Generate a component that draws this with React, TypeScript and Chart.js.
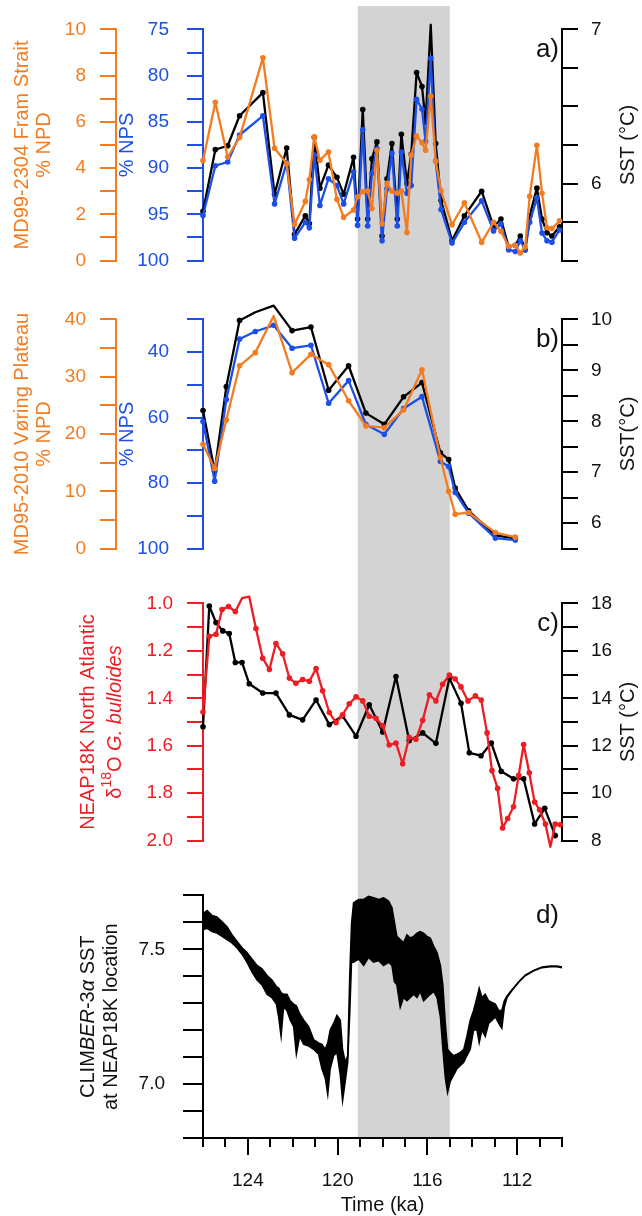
import React, { useEffect, useRef } from 'react';
import { Chart, registerables } from 'chart.js';

Chart.register(...registerables);

const FONT = '"Liberation Sans", Arial, Helvetica, sans-serif';
const ORANGE = '#F47C20';
const BLUE = '#1B4FE6';
const RED = '#EE1D23';
const BLACK = '#000000';
const TEXT_BLACK = '#111111';
const GRAY = '#D3D3D3';

// ---------- shared time axis ----------
const TIME_MIN = 110;
const TIME_MAX = 126;
const SHADE_START = 119.1;
const SHADE_END = 115.0;
const TIME_MAJOR = [124, 120, 116, 112];
const TIME_MINOR = [126, 125, 123, 122, 121, 119, 118, 117, 115, 114, 113, 111, 110];

// ---------- panel a: MD99-2304 Fram Strait ----------
const ageA = [126.00, 125.45, 124.90, 124.37, 123.33, 122.81, 122.27, 121.92, 121.44, 121.26,
  121.04, 120.79, 120.41, 120.03, 119.73, 119.29, 119.11, 118.88, 118.66, 118.47,
  118.25, 118.02, 117.80, 117.58, 117.34, 117.16, 116.91, 116.72, 116.48, 116.24,
  116.08, 115.85, 115.63, 115.39, 114.90, 114.35, 113.58, 113.05, 112.72, 112.38,
  112.08, 111.86, 111.64, 111.44, 111.12, 110.89, 110.67, 110.45, 110.11];
const npdA = [4.33, 6.85, 4.48, 5.32, 8.77, 4.86, 4.20, 1.56, 2.56, 3.51,
  5.36, 4.34, 4.70, 2.65, 1.88, 2.19, 2.76, 2.98, 3.01, 2.25,
  4.77, 1.59, 3.34, 3.01, 2.91, 3.01, 1.22, 4.57, 5.39, 5.10,
  4.77, 7.11, 4.30, 3.02, 1.55, 2.50, 0.79, 1.66, 1.26, 0.62,
  0.66, 0.33, 0.60, 2.78, 4.99, 2.91, 1.42, 1.39, 1.72];
const npsA = [95.13, 89.74, 89.34, 86.42, 84.34, 93.87, 89.40, 97.58, 95.86, 96.46,
  88.58, 94.04, 91.16, 91.89, 93.87, 90.40, 96.19, 85.86, 96.26, 90.56,
  87.91, 97.85, 92.22, 88.41, 96.26, 88.25, 92.72, 91.89, 82.55, 83.61,
  87.09, 78.15, 89.24, 94.47, 98.11, 95.86, 93.54, 96.79, 96.03, 98.84,
  99.01, 97.85, 98.84, 95.86, 93.21, 97.02, 97.85, 98.01, 96.69];
const sstA = [5.82, 6.22, 6.245, 6.44, 6.59, 5.93, 6.23, 5.67, 5.79, 5.74,
  6.30, 5.97, 6.12, 6.04, 5.93, 6.17, 5.77, 6.48, 5.77, 6.16,
  6.27, 5.66, 6.03, 6.26, 5.77, 6.32, 6.00, 6.19, 6.72, 6.63,
  6.40, 7.03, 6.26, 5.89, 5.63, 5.79, 5.95, 5.72, 5.77, 5.59,
  5.60, 5.66, 5.57, 5.79, 5.97, 5.77, 5.68, 5.66, 5.72];
const TICKS_NPD_A = [0, 1, 2, 3, 4, 5, 6, 7, 8, 9, 10];
const LABELS_NPD_A = [0, 2, 4, 6, 8, 10];
const TICKS_NPS_A = [75, 77.5, 80, 82.5, 85, 87.5, 90, 92.5, 95, 97.5, 100];
const LABELS_NPS_A = [75, 80, 85, 90, 95, 100];
const TICKS_SST_A = [5.5, 5.75, 6, 6.25, 6.5, 6.75, 7];
const LABELS_SST_A = [6, 7];

// ---------- panel b: MD95-2010 Voring Plateau ----------
const ageB = [126.00, 125.48, 124.96, 124.37, 123.67, 122.85, 122.03, 121.19, 120.40, 119.51,
  118.74, 117.92, 117.06, 116.24, 115.42, 115.05, 114.76, 114.16, 112.97, 112.08];
const npdB = [18.2, 14.0, 22.5, 31.9, 34.2, 40.6, 30.7, 33.9, 32.1, 25.8,
  21.4, 21.1, 24.2, 31.2, 15.9, 10.0, 6.0, 6.3, 2.8, 2.0];
const npsB = [61.2, 79.4, 54.5, 36.0, 33.7, 31.8, 38.8, 37.9, 55.6, 48.7,
  62.1, 65.1, 57.2, 53.6, 73.4, 74.9, 82.9, 89.2, 96.8, 97.4];
const sstB = [8.21, 7.02, 8.68, 9.98, 10.14, 10.27, 9.78, 9.85, 8.61, 9.09,
  8.16, 7.94, 8.48, 8.76, 7.38, 7.25, 6.69, 6.24, 5.76, 5.70];
const TICKS_NPD_B = [0, 5, 10, 15, 20, 25, 30, 35, 40];
const LABELS_NPD_B = [0, 10, 20, 30, 40];
const TICKS_NPS_B = [30, 40, 50, 60, 70, 80, 90, 100];
const LABELS_NPS_B = [40, 60, 80, 100];
const TICKS_SST_B = [5.5, 6, 6.5, 7, 7.5, 8, 8.5, 9, 9.5, 10];
const LABELS_SST_B = [6, 7, 8, 9, 10];

// ---------- panel c: NEAP18K ----------
const ageC18O = [126.00, 125.72, 125.42, 125.15, 124.86, 124.56, 124.26, 123.94, 123.64, 123.34,
  123.04, 122.75, 122.45, 122.15, 121.86, 121.56, 121.26, 120.96, 120.67, 120.37,
  120.07, 119.78, 119.48, 119.18, 118.88, 118.59, 118.29, 117.99, 117.70, 117.40,
  117.10, 116.81, 116.51, 116.21, 115.91, 115.62, 115.32, 115.02, 114.76, 114.50,
  114.19, 113.86, 113.60, 113.34, 113.12, 112.87, 112.65, 112.42, 112.16, 111.93,
  111.71, 111.46, 111.22, 111.00, 110.74, 110.52, 110.30, 110.08];
const d18O = [1.458, 1.139, 1.130, 1.026, 1.013, 1.034, 0.978, 0.971, 1.106, 1.231,
  1.279, 1.169, 1.212, 1.315, 1.337, 1.321, 1.328, 1.275, 1.368, 1.460,
  1.503, 1.470, 1.423, 1.394, 1.411, 1.476, 1.484, 1.516, 1.597, 1.589,
  1.676, 1.564, 1.573, 1.493, 1.385, 1.411, 1.341, 1.302, 1.319, 1.352,
  1.411, 1.390, 1.407, 1.546, 1.705, 1.780, 1.947, 1.907, 1.857, 1.725,
  1.595, 1.714, 1.837, 1.870, 1.930, 2.026, 1.930, 1.933];
const ageCSst = [126.00, 125.72, 125.42, 125.12, 124.83, 124.56, 124.26, 123.94, 123.34, 122.75,
  122.15, 121.56, 120.96, 120.37, 119.78, 119.18, 118.59, 117.99, 117.40, 116.81,
  116.21, 115.62, 115.02, 114.50, 114.13, 113.61, 113.15, 112.71, 112.16, 111.71,
  111.22, 110.77, 110.30];
const sstC = [12.80, 17.89, 17.19, 16.84, 16.73, 15.51, 15.51, 14.61, 14.22, 14.22,
  13.30, 13.09, 13.93, 12.89, 13.26, 12.40, 13.73, 12.58, 14.92, 12.21,
  12.54, 12.10, 14.85, 13.79, 11.70, 11.58, 12.11, 10.92, 10.61, 10.61,
  8.70, 9.36, 8.21];
const TICKS_D18O = [1.0, 1.1, 1.2, 1.3, 1.4, 1.5, 1.6, 1.7, 1.8, 1.9, 2.0];
const LABELS_D18O = [1.0, 1.2, 1.4, 1.6, 1.8, 2.0];
const TICKS_SST_C = [8, 9, 10, 11, 12, 13, 14, 15, 16, 17, 18];
const LABELS_SST_C = [8, 10, 12, 14, 16, 18];

// ---------- panel d: CLIMBER-3alpha SST (upper / lower envelope of the dense trace) ----------
const ageD = [126.00, 125.82, 125.60, 125.38, 125.15, 124.93, 124.71, 124.49, 124.26, 124.04,
  123.82, 123.59, 123.37, 123.15, 122.93, 122.73, 122.63, 122.52, 122.41, 122.26,
  122.11, 121.96, 121.84, 121.69, 121.51, 121.29, 121.07, 120.85, 120.70, 120.55,
  120.44, 120.33, 120.18, 120.03, 119.88, 119.78, 119.66, 119.55, 119.46, 119.38,
  119.29, 119.06, 118.84, 118.62, 118.40, 118.17, 117.95, 117.73, 117.58, 117.47,
  117.36, 117.21, 117.06, 116.91, 116.76, 116.61, 116.46, 116.32, 116.17, 116.02,
  115.87, 115.72, 115.57, 115.42, 115.31, 115.20, 115.10, 114.98, 114.83, 114.68,
  114.53, 114.38, 114.24, 114.09, 113.94, 113.79, 113.69, 113.57, 113.42, 113.27,
  113.12, 112.97, 112.82, 112.68, 112.57, 112.45, 112.23, 111.93, 111.64, 111.26,
  110.89, 110.52, 110.23, 110.00];
const climUpper = [7.632, 7.644, 7.626, 7.620, 7.602, 7.584, 7.554, 7.530, 7.506, 7.488,
  7.464, 7.440, 7.428, 7.404, 7.386, 7.362, 7.356, 7.339, 7.333, 7.333,
  7.309, 7.297, 7.291, 7.261, 7.237, 7.213, 7.165, 7.153, 7.147, 7.129,
  7.153, 7.201, 7.225, 7.255, 7.237, 7.129, 7.081, 7.105, 7.404, 7.596,
  7.673, 7.685, 7.685, 7.697, 7.691, 7.685, 7.691, 7.679, 7.655, 7.602,
  7.548, 7.536, 7.524, 7.554, 7.542, 7.548, 7.560, 7.566, 7.560, 7.548,
  7.542, 7.512, 7.488, 7.440, 7.368, 7.225, 7.129, 7.117, 7.105, 7.111,
  7.117, 7.129, 7.177, 7.237, 7.273, 7.321, 7.356, 7.321, 7.333, 7.309,
  7.303, 7.297, 7.273, 7.273, 7.309, 7.327, 7.350, 7.380, 7.404, 7.422,
  7.434, 7.438, 7.438, 7.434];
const climLower = [7.572, 7.578, 7.566, 7.560, 7.548, 7.536, 7.524, 7.506, 7.482, 7.452,
  7.416, 7.386, 7.368, 7.333, 7.321, 7.297, 7.249, 7.177, 7.285, 7.273,
  7.237, 7.213, 7.111, 7.177, 7.147, 7.141, 7.129, 7.111, 7.057, 7.022,
  6.962, 7.057, 7.105, 7.117, 7.033, 6.938, 7.010, 7.081, 7.261, 7.452,
  7.452, 7.464, 7.440, 7.470, 7.452, 7.458, 7.440, 7.452, 7.440, 7.380,
  7.368, 7.285, 7.321, 7.309, 7.321, 7.333, 7.321, 7.344, 7.309, 7.321,
  7.333, 7.344, 7.321, 7.249, 7.129, 7.022, 6.968, 7.010, 7.033, 7.057,
  7.069, 7.081, 7.105, 7.129, 7.201, 7.201, 7.153, 7.201, 7.177, 7.225,
  7.237, 7.249, 7.225, 7.207, 7.285, 7.321, 7.347, 7.378, 7.402, 7.420,
  7.432, 7.435, 7.435, 7.432];
const TICKS_CLIM = [6.8, 6.9, 7.0, 7.1, 7.2, 7.3, 7.4, 7.5, 7.6, 7.7];
const LABELS_CLIM = [7.0, 7.5];

// ---------- helpers ----------
type Seg = { t: string; it?: boolean; sup?: boolean };
type TitleItem = { x: number; color: string; segs: Seg[] };

const pts = (xs: number[], ys: number[]) => xs.map((x, i) => ({ x, y: ys[i] }));

function drawRich(ctx: CanvasRenderingContext2D, x: number, yc: number, segs: Seg[], size: number, color: string) {
  ctx.save();
  ctx.translate(x, yc);
  ctx.rotate(-Math.PI / 2);
  const fonts = segs.map((s) => `${s.it ? 'italic ' : ''}${s.sup ? Math.round(size * 0.68) : size}px ${FONT}`);
  let total = 0;
  const widths = segs.map((s, i) => {
    ctx.font = fonts[i];
    const w = ctx.measureText(s.t).width;
    total += w;
    return w;
  });
  let cx = -total / 2;
  ctx.fillStyle = color;
  ctx.textBaseline = 'middle';
  ctx.textAlign = 'left';
  segs.forEach((s, i) => {
    ctx.font = fonts[i];
    ctx.fillText(s.t, cx, s.sup ? -size * 0.38 : 0);
    cx += widths[i];
  });
  ctx.restore();
}

function makeDecor(o: { shadeTop: number; shadeToArea?: boolean; letter: string; titles: TitleItem[]; minorTicks?: number[] }) {
  return {
    id: 'decor',
    beforeDraw(chart: any) {
      const { ctx, chartArea, scales } = chart;
      const x1 = scales.x.getPixelForValue(SHADE_START);
      const x2 = scales.x.getPixelForValue(SHADE_END);
      const y2 = o.shadeToArea ? chartArea.bottom : chart.height;
      ctx.save();
      ctx.fillStyle = GRAY;
      ctx.fillRect(Math.min(x1, x2), o.shadeTop, Math.abs(x2 - x1), y2 - o.shadeTop);
      ctx.restore();
    },
    afterDraw(chart: any) {
      const { ctx, chartArea } = chart;
      const yc = (chartArea.top + chartArea.bottom) / 2;
      o.titles.forEach((t) => drawRich(ctx, t.x, yc, t.segs, 20, t.color));
      ctx.save();
      ctx.font = `26px ${FONT}`;
      ctx.fillStyle = TEXT_BLACK;
      ctx.textAlign = 'right';
      ctx.textBaseline = 'middle';
      ctx.fillText(o.letter, chartArea.right - 3, chartArea.top + 20);
      ctx.restore();
      if (o.minorTicks) {
        const sx = chart.scales.x;
        ctx.save();
        ctx.strokeStyle = BLACK;
        ctx.lineWidth = 2;
        o.minorTicks.forEach((v) => {
          const px = Math.round(sx.getPixelForValue(v));
          ctx.beginPath();
          ctx.moveTo(px, chartArea.bottom);
          ctx.lineTo(px, chartArea.bottom + 9);
          ctx.stroke();
        });
        ctx.restore();
      }
    },
  };
}

function yAxis(p: any) {
  const isLabel = (v: number) => p.labels.some((l: number) => Math.abs(l - v) < 1e-6);
  return {
    type: 'linear',
    position: p.position,
    weight: p.weight ?? 0,
    reverse: !!p.reverse,
    min: p.min,
    max: p.max,
    afterBuildTicks: (s: any) => {
      s.ticks = p.ticks.map((v: number) => ({ value: v }));
    },
    afterFit: (s: any) => {
      s.width = p.width;
    },
    ticks: {
      autoSkip: false,
      color: p.labelColor ?? p.color,
      padding: p.padding,
      font: { family: FONT, size: 19 },
      callback: (v: number) => (isLabel(v) ? v.toFixed(p.decimals ?? 0) : ''),
    },
    grid: { drawOnChartArea: false, drawTicks: true, tickLength: p.tickLength ?? 16, color: p.color, lineWidth: 2 },
    border: { display: true, color: p.color, width: 2 },
  };
}

function lineDs(label: string, xs: number[], ys: number[], axis: string, color: string) {
  return {
    label,
    data: pts(xs, ys),
    yAxisID: axis,
    borderColor: color,
    backgroundColor: color,
    pointBackgroundColor: color,
    borderWidth: 2.3,
    pointRadius: 2.8,
    pointBorderWidth: 0,
    pointHoverRadius: 0,
    clip: false,
    tension: 0,
    fill: false,
    borderJoinStyle: 'round',
  };
}

const hiddenX = { type: 'linear', min: TIME_MIN, max: TIME_MAX, reverse: true, display: false };

function baseOptions(padding: any, scales: any) {
  return {
    responsive: false,
    animation: false,
    events: [],
    layout: { padding },
    plugins: { legend: { display: false }, tooltip: { enabled: false } },
    scales,
  };
}

function configA(): any {
  return {
    type: 'line',
    data: {
      datasets: [
        lineDs('% NPD', ageA, npdA, 'yNpd', ORANGE),
        lineDs('% NPS', ageA, npsA, 'yNps', BLUE),
        lineDs('SST', ageA, sstA, 'ySst', BLACK),
      ],
    },
    options: baseOptions({ top: 23, bottom: 15, left: 0, right: 0 }, {
      x: hiddenX,
      yNpd: yAxis({ position: 'left', weight: 2, min: 0, max: 10, ticks: TICKS_NPD_A, labels: LABELS_NPD_A, color: ORANGE, width: 116, padding: 14 }),
      yNps: yAxis({ position: 'left', weight: 1, reverse: true, min: 75, max: 100, ticks: TICKS_NPS_A, labels: LABELS_NPS_A, color: BLUE, width: 87, padding: 18 }),
      ySst: yAxis({ position: 'right', min: 5.5, max: 7, ticks: TICKS_SST_A, labels: LABELS_SST_A, color: BLACK, labelColor: TEXT_BLACK, width: 80, padding: 13 }),
    }),
    plugins: [makeDecor({
      shadeTop: 6,
      letter: 'a)',
      titles: [
        { x: 22, color: ORANGE, segs: [{ t: 'MD99-2304 Fram Strait' }] },
        { x: 44, color: ORANGE, segs: [{ t: '% NPD' }] },
        { x: 127, color: BLUE, segs: [{ t: '% NPS' }] },
        { x: 628, color: TEXT_BLACK, segs: [{ t: 'SST (°C)' }] },
      ],
    })],
  };
}

function configB(): any {
  return {
    type: 'line',
    data: {
      datasets: [
        lineDs('% NPD', ageB, npdB, 'yNpd', ORANGE),
        lineDs('% NPS', ageB, npsB, 'yNps', BLUE),
        lineDs('SST', ageB, sstB, 'ySst', BLACK),
      ],
    },
    options: baseOptions({ top: 21, bottom: 15, left: 0, right: 0 }, {
      x: hiddenX,
      yNpd: yAxis({ position: 'left', weight: 2, min: 0, max: 40, ticks: TICKS_NPD_B, labels: LABELS_NPD_B, color: ORANGE, width: 116, padding: 14 }),
      yNps: yAxis({ position: 'left', weight: 1, reverse: true, min: 30, max: 100, ticks: TICKS_NPS_B, labels: LABELS_NPS_B, color: BLUE, width: 87, padding: 18 }),
      ySst: yAxis({ position: 'right', min: 5.5, max: 10, ticks: TICKS_SST_B, labels: LABELS_SST_B, color: BLACK, labelColor: TEXT_BLACK, width: 80, padding: 13 }),
    }),
    plugins: [makeDecor({
      shadeTop: 0,
      letter: 'b)',
      titles: [
        { x: 22, color: ORANGE, segs: [{ t: 'MD95-2010 Vøring Plateau' }] },
        { x: 44, color: ORANGE, segs: [{ t: '% NPD' }] },
        { x: 127, color: BLUE, segs: [{ t: '% NPS' }] },
        { x: 628, color: TEXT_BLACK, segs: [{ t: 'SST(°C)' }] },
      ],
    })],
  };
}

function configC(): any {
  return {
    type: 'line',
    data: {
      datasets: [
        lineDs('δ18O', ageC18O, d18O, 'yD18', RED),
        lineDs('SST', ageCSst, sstC, 'ySst', BLACK),
      ],
    },
    options: baseOptions({ top: 21, bottom: 15, left: 0, right: 0 }, {
      x: hiddenX,
      yD18: yAxis({ position: 'left', reverse: true, min: 1.0, max: 2.0, ticks: TICKS_D18O, labels: LABELS_D18O, decimals: 1, color: RED, width: 203, padding: 14 }),
      ySst: yAxis({ position: 'right', min: 8, max: 18, ticks: TICKS_SST_C, labels: LABELS_SST_C, color: BLACK, labelColor: TEXT_BLACK, width: 80, padding: 13 }),
    }),
    plugins: [makeDecor({
      shadeTop: 0,
      letter: 'c)',
      titles: [
        { x: 88, color: RED, segs: [{ t: 'NEAP18K North Atlantic' }] },
        { x: 115, color: RED, segs: [{ t: 'δ' }, { t: '18', sup: true }, { t: 'O ' }, { t: 'G. bulloides', it: true }] },
        { x: 628, color: TEXT_BLACK, segs: [{ t: 'SST (°C)' }] },
      ],
    })],
  };
}

function configD(): any {
  return {
    type: 'line',
    data: {
      datasets: [
        {
          label: 'upper',
          data: pts(ageD, climUpper),
          yAxisID: 'yClim',
          borderColor: BLACK,
          backgroundColor: BLACK,
          borderWidth: 1.5,
          pointRadius: 0,
          tension: 0,
          fill: '+1',
          clip: false,
        },
        {
          label: 'lower',
          data: pts(ageD, climLower),
          yAxisID: 'yClim',
          borderColor: BLACK,
          backgroundColor: BLACK,
          borderWidth: 1.5,
          pointRadius: 0,
          tension: 0,
          fill: false,
          clip: false,
        },
      ],
    },
    options: baseOptions({ top: 21, bottom: 0, left: 0, right: 80 }, {
      x: {
        type: 'linear',
        position: 'bottom',
        min: TIME_MIN,
        max: TIME_MAX,
        reverse: true,
        afterBuildTicks: (s: any) => {
          s.ticks = TIME_MAJOR.map((v) => ({ value: v }));
        },
        afterFit: (s: any) => {
          s.height = 78;
        },
        ticks: {
          autoSkip: false,
          maxRotation: 0,
          color: TEXT_BLACK,
          padding: 14,
          font: { family: FONT, size: 19 },
          callback: (v: number) => String(v),
        },
        grid: { drawOnChartArea: false, drawTicks: true, tickLength: 17, color: BLACK, lineWidth: 2 },
        border: { display: true, color: BLACK, width: 2 },
        title: {
          display: true,
          text: 'Time (ka)',
          color: TEXT_BLACK,
          font: { family: FONT, size: 20, lineHeight: 1.1 },
          padding: { top: 0, bottom: 0 },
        },
      },
      yClim: yAxis({ position: 'left', min: 6.8, max: 7.7, ticks: TICKS_CLIM, labels: LABELS_CLIM, decimals: 1, color: BLACK, labelColor: TEXT_BLACK, width: 203, padding: 18, tickLength: 20 }),
    }),
    plugins: [makeDecor({
      shadeTop: 0,
      shadeToArea: true,
      letter: 'd)',
      minorTicks: TIME_MINOR,
      titles: [
        { x: 88, color: TEXT_BLACK, segs: [{ t: 'CLIM' }, { t: 'BER', it: true }, { t: '-3' }, { t: 'α', it: true }, { t: ' SST' }] },
        { x: 111, color: TEXT_BLACK, segs: [{ t: 'at NEAP18K location' }] },
      ],
    })],
  };
}

export default function App() {
  const refA = useRef<HTMLCanvasElement>(null);
  const refB = useRef<HTMLCanvasElement>(null);
  const refC = useRef<HTMLCanvasElement>(null);
  const refD = useRef<HTMLCanvasElement>(null);

  useEffect(() => {
    Chart.defaults.font.family = FONT;
    const charts = [
      new Chart(refA.current as HTMLCanvasElement, configA()),
      new Chart(refB.current as HTMLCanvasElement, configB()),
      new Chart(refC.current as HTMLCanvasElement, configC()),
      new Chart(refD.current as HTMLCanvasElement, configD()),
    ];
    return () => charts.forEach((c) => c.destroy());
  }, []);

  const cs = (top: number, h: number): React.CSSProperties => ({ position: 'absolute', left: 0, top, width: 642, height: h, display: 'block' });

  return (
    <div style={{ position: 'absolute', left: 0, top: 0, width: 642, height: 1216, background: '#ffffff', overflow: 'hidden' }}>
      <canvas ref={refA} width={642} height={290} style={cs(0, 290)} />
      <canvas ref={refB} width={642} height={288} style={cs(290, 288)} />
      <canvas ref={refC} width={642} height={288} style={cs(578, 288)} />
      <canvas ref={refD} width={642} height={350} style={cs(866, 350)} />
    </div>
  );
}
